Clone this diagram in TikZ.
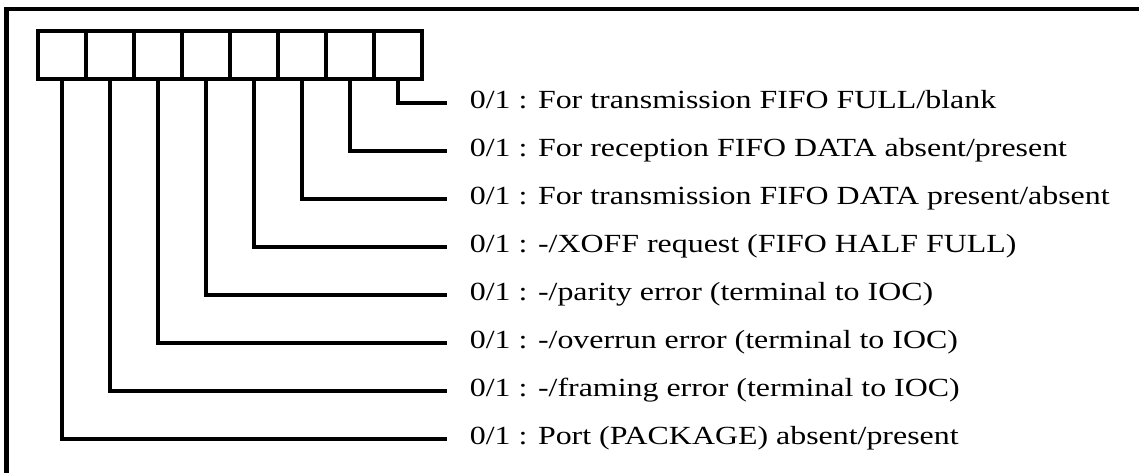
\documentclass[tikz,border=0pt]{standalone}
\usepackage{fontspec}
\setmainfont{Liberation Serif}[FakeStretch=1.22]
\begin{document}
\begin{tikzpicture}[font=\fontsize{15.5}{18}\selectfont, line width=2pt,
  cell/.style={draw, minimum size=1cm, inner sep=0pt},
  bitlabel/.style={anchor=west, inner xsep=0.44cm, inner ysep=0pt,
    text height=0.9em, text depth=0.21em}]
  \useasboundingbox (0,0) rectangle (23.729,-9.854);
  % 外框（只有上边和左边）
  \draw[line width=2.4pt] (0.135,-9.854) -- (0.135,-0.1875) -- (23.729,-0.1875);
  % 八个位
  \node[cell] (c0) at (1.2917,-1.1458) {};
  \node[cell] (c1) at (2.2917,-1.1458) {};
  \node[cell] (c2) at (3.2917,-1.1458) {};
  \node[cell] (c3) at (4.2917,-1.1458) {};
  \node[cell] (c4) at (5.2917,-1.1458) {};
  \node[cell] (c5) at (6.2917,-1.1458) {};
  \node[cell] (c6) at (7.2917,-1.1458) {};
  \node[cell] (c7) at (8.2917,-1.1458) {};
  % 各位的说明
  \node[bitlabel] (t7) at (9.3125,-2.1458) {0/1 : For transmission FIFO FULL/blank};
  \node[bitlabel] (t6) at (9.3125,-3.1458) {0/1 : For reception FIFO DATA absent/present};
  \node[bitlabel] (t5) at (9.3125,-4.1458) {0/1 : For transmission FIFO DATA present/absent};
  \node[bitlabel] (t4) at (9.3125,-5.1458) {0/1 : -/XOFF request (FIFO HALF FULL)};
  \node[bitlabel] (t3) at (9.3125,-6.1458) {0/1 : -/parity error (terminal to IOC)};
  \node[bitlabel] (t2) at (9.3125,-7.1458) {0/1 : -/overrun error (terminal to IOC)};
  \node[bitlabel] (t1) at (9.3125,-8.1458) {0/1 : -/framing error (terminal to IOC)};
  \node[bitlabel] (t0) at (9.3125,-9.1458) {0/1 : Port (PACKAGE) absent/present};
  % 引线
  \draw (c7.south) |- (t7.west);
  \draw (c6.south) |- (t6.west);
  \draw (c5.south) |- (t5.west);
  \draw (c4.south) |- (t4.west);
  \draw (c3.south) |- (t3.west);
  \draw (c2.south) |- (t2.west);
  \draw (c1.south) |- (t1.west);
  \draw (c0.south) |- (t0.west);
\end{tikzpicture}
\end{document}
